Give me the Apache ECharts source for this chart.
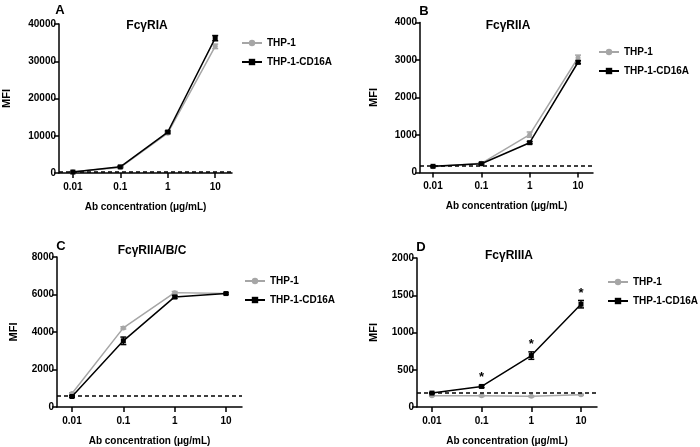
<!DOCTYPE html>
<html>
<head>
<meta charset="utf-8">
<script src="https://cdn.jsdelivr.net/npm/echarts@6/dist/echarts.min.js"></script>
<style>html,body{margin:0;padding:0;background:#fff}#c{width:700px;height:447px}</style>
</head>
<body>
<div id="c"></div>
<script>
// ---- data ----
const concentrations = [0.01, 0.1, 1, 10];
const tickLabels = ['0.01', '0.1', '1', '10'];
const panelLetters = ['A', 'B', 'C', 'D'];
const panelTitles = ['FcγRIA', 'FcγRIIA', 'FcγRIIA/B/C', 'FcγRIIIA'];
const seriesNames = ['THP-1', 'THP-1-CD16A'];

const thp1_A = [350, 1500, 10700, 34000];
const thp1_A_err = [100, 200, 300, 600];
const cd16a_A = [250, 1650, 11000, 36200];
const cd16a_A_err = [100, 200, 300, 700];

const thp1_B = [155, 245, 1010, 3060];
const thp1_B_err = [15, 20, 70, 70];
const cd16a_B = [165, 235, 795, 2940];
const cd16a_B_err = [15, 20, 30, 40];

const thp1_C = [720, 4220, 6100, 6050];
const thp1_C_err = [40, 60, 60, 40];
const cd16a_C = [560, 3530, 5870, 6050];
const cd16a_C_err = [40, 200, 80, 40];

const thp1_D = [151, 150, 143, 164];
const thp1_D_err = [8, 8, 8, 8];
const cd16a_D = [187, 276, 690, 1380];
const cd16a_D_err = [8, 15, 50, 50];

const baselines = [250, 175, 610, 195];
const yMaxes = [40000, 4000, 8000, 2000];
const yIntervals = [10000, 1000, 2000, 500];
const significantD = [0.1, 1, 10];

// ---- layout ----
const FONT = '"Liberation Sans", Arial, sans-serif';
const GRAY = '#a6a6a6';
const grids = [
  {left: 57, top: 24, width: 175, height: 149},
  {left: 420, top: 22.5, width: 173, height: 150},
  {left: 57, top: 257, width: 185, height: 151},
  {left: 417, top: 258, width: 180, height: 150}
];
const xExt = [[0.0051, 22.6], [0.00538, 20.4], [0.0051, 20.5], [0.005, 21.0]];
const yNameGap = [47, 41, 38, 38];
const letterPos = [[55, -1], [419, 0], [56, 235], [416, 236]];
const titlePos = [[142, 15], [503, 15], [147, 240], [504, 245]];
const legendPos = [[241, 38], [598, 47], [244, 276], [607, 277]];

const panels = [
  [thp1_A, thp1_A_err, cd16a_A, cd16a_A_err],
  [thp1_B, thp1_B_err, cd16a_B, cd16a_B_err],
  [thp1_C, thp1_C_err, cd16a_C, cd16a_C_err],
  [thp1_D, thp1_D_err, cd16a_D, cd16a_D_err]
];

function tickLabelFor(v) {
  let best = 0, bd = Infinity;
  concentrations.forEach((c, i) => {
    const d = Math.abs(Math.log10(c) - Math.log10(v));
    if (d < bd) { bd = d; best = i; }
  });
  return tickLabels[best];
}

const xAxes = [], yAxes = [], series = [], titles = [], legends = [];

panels.forEach((p, i) => {
  xAxes.push({
    type: 'log', logBase: 10, gridIndex: i,
    min: xExt[i][0], max: xExt[i][1],
    name: 'Ab concentration (μg/mL)', nameLocation: 'middle', nameGap: 29,
    nameTextStyle: {fontFamily: FONT, fontWeight: 'bold', fontSize: 10, color: '#000'},
    axisLine: {onZero: false, lineStyle: {color: '#000', width: 1.5}},
    axisTick: {show: true, inside: false, length: 5, lineStyle: {color: '#000', width: 1.5}, customValues: concentrations},
    axisLabel: {customValues: concentrations, formatter: v => tickLabelFor(v), fontFamily: FONT, fontWeight: 'bold', fontSize: 10, color: '#000', margin: 9},
    splitLine: {show: false}, minorTick: {show: false}
  });
  yAxes.push({
    type: 'value', gridIndex: i, min: 0, max: yMaxes[i], interval: yIntervals[i],
    name: 'MFI', nameLocation: 'middle', nameGap: yNameGap[i],
    nameTextStyle: {fontFamily: FONT, fontWeight: 'bold', fontSize: 11, color: '#000'},
    axisLine: {show: true, lineStyle: {color: '#000', width: 1.5}},
    axisTick: {show: true, inside: false, length: 5, lineStyle: {color: '#000', width: 1.5}},
    axisLabel: {formatter: v => String(v), fontFamily: FONT, fontWeight: 'bold', fontSize: 10, color: '#000', margin: 3},
    splitLine: {show: false}
  });
  titles.push({text: panelLetters[i], left: letterPos[i][0], top: letterPos[i][1], textAlign: 'center',
    textStyle: {fontFamily: FONT, fontWeight: 'bold', fontSize: 13, color: '#000'}});
  titles.push({text: panelTitles[i], left: titlePos[i][0], top: titlePos[i][1], textAlign: 'center',
    textStyle: {fontFamily: FONT, fontWeight: 'bold', fontSize: 12, color: '#000'}});
  legends.push({
    data: seriesNames, orient: 'vertical', left: legendPos[i][0], top: legendPos[i][1],
    itemWidth: 20, itemHeight: 8, itemGap: 9, padding: 0, selectedMode: false,
    textStyle: {fontFamily: FONT, fontWeight: 'bold', fontSize: 10, color: '#000'}
  });

  const defs = [
    {name: seriesNames[0], vals: p[0], errs: p[1], color: GRAY, symbol: 'circle', size: 5},
    {name: seriesNames[1], vals: p[2], errs: p[3], color: '#000', symbol: 'rect', size: 5}
  ];
  defs.forEach((d, k) => {
    series.push({
      type: 'custom', xAxisIndex: i, yAxisIndex: i, silent: true, z: 3,
      data: concentrations.map((c, j) => [c, d.vals[j] - d.errs[j], d.vals[j] + d.errs[j]]),
      encode: {x: 0, y: [1, 2]},
      renderItem: (params, api) => {
        const x = api.value(0);
        const a = api.coord([x, api.value(2)]);
        const b = api.coord([x, api.value(1)]);
        const w = 3;
        const st = {stroke: d.color, lineWidth: 1.5};
        return {type: 'group', children: [
          {type: 'line', shape: {x1: a[0], y1: a[1], x2: b[0], y2: b[1]}, style: st},
          {type: 'line', shape: {x1: a[0] - w, y1: a[1], x2: a[0] + w, y2: a[1]}, style: st},
          {type: 'line', shape: {x1: b[0] - w, y1: b[1], x2: b[0] + w, y2: b[1]}, style: st}
        ]};
      }
    });
    series.push({
      type: 'line', name: d.name, xAxisIndex: i, yAxisIndex: i, z: 4 + k,
      data: concentrations.map((c, j) => [c, d.vals[j]]),
      symbol: d.symbol, symbolSize: d.size, showSymbol: true,
      lineStyle: {color: d.color, width: 1.5},
      itemStyle: {color: d.color},
      emphasis: {disabled: true},
      markLine: k === 0 ? {
        silent: true, symbol: 'none', label: {show: false},
        lineStyle: {color: '#000', type: [4, 3], width: 1.5},
        data: [{yAxis: baselines[i]}]
      } : undefined
    });
  });
});

// significance asterisks in panel D
series.push({
  type: 'custom', xAxisIndex: 3, yAxisIndex: 3, silent: true, z: 6,
  data: significantD.map(c => {
    const j = concentrations.indexOf(c);
    return [c, cd16a_D[j] + cd16a_D_err[j]];
  }),
  encode: {x: 0, y: 1},
  renderItem: (params, api) => {
    const pt = api.coord([api.value(0), api.value(1)]);
    return {type: 'text', x: pt[0], y: pt[1] - 1,
      style: {text: '*', fontFamily: FONT, fontWeight: 'bold', fontSize: 13, fill: '#000', align: 'center', verticalAlign: 'bottom'}};
  }
});

const chart = echarts.init(document.getElementById('c'), null, {renderer: 'canvas'});
chart.setOption({
  animation: false,
  backgroundColor: '#fff',
  title: titles, legend: legends, grid: grids,
  xAxis: xAxes, yAxis: yAxes, series: series
});
</script>
</body>
</html>
